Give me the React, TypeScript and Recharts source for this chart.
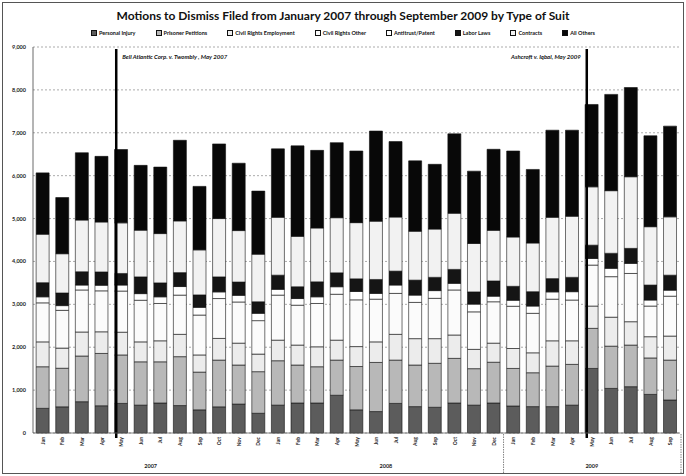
import React from "react";
import { BarChart, Bar, XAxis, YAxis, CartesianGrid, ReferenceLine } from "recharts";

// Monthly motions to dismiss, Jan 2007 - Sep 2009
const months = [
  "Jan-07", "Feb-07", "Mar-07", "Apr-07", "May-07", "Jun-07", "Jul-07", "Aug-07", "Sep-07", "Oct-07", "Nov-07", "Dec-07",
  "Jan-08", "Feb-08", "Mar-08", "Apr-08", "May-08", "Jun-08", "Jul-08", "Aug-08", "Sep-08", "Oct-08", "Nov-08", "Dec-08",
  "Jan-09", "Feb-09", "Mar-09", "Apr-09", "May-09", "Jun-09", "Jul-09", "Aug-09", "Sep-09",
];
const monthLabels = [
  "Jan", "Feb", "Mar", "Apr", "May", "Jun", "Jul", "Aug", "Sep", "Oct", "Nov", "Dec",
  "Jan", "Feb", "Mar", "Apr", "May", "Jun", "Jul", "Aug", "Sep", "Oct", "Nov", "Dec",
  "Jan", "Feb", "Mar", "Apr", "May", "Jun", "Jul", "Aug", "Sep",
];
const years = ["2007", "2008", "2009"];
const monthsPerYear = [12, 12, 9];

const personalInjury = [575, 610, 730, 635, 690, 650, 700, 640, 540, 610, 675, 460, 650, 700, 700, 880, 540, 500, 690, 615, 600, 700, 650, 700, 630, 615, 615, 650, 1505, 1040, 1080, 900, 770];
const prisonerPetitions = [970, 900, 1065, 1220, 1130, 1010, 960, 1140, 880, 1090, 910, 970, 1035, 885, 845, 820, 1010, 1145, 1010, 970, 1025, 1040, 850, 950, 875, 790, 945, 950, 935, 985, 970, 850, 930];
const civilRightsEmployment = [580, 470, 560, 505, 530, 465, 490, 520, 400, 505, 510, 410, 480, 465, 465, 465, 465, 480, 600, 615, 575, 545, 450, 445, 465, 465, 590, 550, 520, 675, 545, 495, 560];
const civilRightsOther = [910, 880, 980, 955, 960, 970, 870, 915, 930, 930, 960, 780, 1050, 930, 1010, 1070, 1090, 995, 955, 845, 940, 1050, 875, 965, 985, 920, 970, 950, 955, 945, 1125, 715, 930];
const antitrustPatent = [140, 110, 115, 130, 140, 155, 155, 200, 180, 155, 155, 170, 135, 155, 155, 175, 195, 135, 195, 170, 180, 155, 180, 130, 140, 170, 170, 195, 155, 195, 235, 140, 140];
const laborLaws = [330, 295, 310, 310, 270, 390, 325, 325, 290, 350, 310, 270, 330, 275, 350, 325, 295, 325, 325, 350, 310, 325, 285, 355, 325, 335, 310, 335, 310, 350, 350, 350, 350];
const contracts = [1130, 915, 1205, 1165, 1180, 1090, 1150, 1205, 1050, 1360, 1200, 1110, 1350, 1175, 1255, 1285, 1310, 1360, 1260, 1140, 1125, 1310, 1130, 1180, 1150, 1135, 1430, 1425, 1360, 1460, 1670, 1360, 1360];
const allOthers = [1430, 1310, 1570, 1530, 1710, 1510, 1550, 1880, 1480, 1740, 1570, 1470, 1595, 2110, 1810, 1750, 1670, 2100, 1760, 1640, 1510, 1850, 1685, 1890, 2005, 1715, 2030, 2005, 1920, 2245, 2080, 2120, 2115];

const yTicks = [0, 1000, 2000, 3000, 4000, 5000, 6000, 7000, 8000, 9000];

const series = [
  { key: "personalInjury", name: "Personal Injury", values: personalInjury, fill: "#5c5c5c" },
  { key: "prisonerPetitions", name: "Prisoner Petitions", values: prisonerPetitions, fill: "#b8b8b8" },
  { key: "civilRightsEmployment", name: "Civil Rights Employment", values: civilRightsEmployment, fill: "#ececec" },
  { key: "civilRightsOther", name: "Civil Rights Other", values: civilRightsOther, fill: "#fbfbfb" },
  { key: "antitrustPatent", name: "Antitrust/Patent", values: antitrustPatent, fill: "#ffffff" },
  { key: "laborLaws", name: "Labor Laws", values: laborLaws, fill: "#151515" },
  { key: "contracts", name: "Contracts", values: contracts, fill: "#f2f2f2" },
  { key: "allOthers", name: "All Others", values: allOthers, fill: "#080808" },
];

const data = months.map((m, i) => {
  const row: Record<string, string | number> = { month: m, label: monthLabels[i] };
  series.forEach((s) => (row[s.key] = s.values[i]));
  return row;
});

const W = 686;
const H = 476;
const Y_AXIS_W = 33;
const RIGHT = 6;
const BAND = (W - Y_AXIS_W - RIGHT) / months.length;
const FONT = "Lato, 'Open Sans', sans-serif";

// first index of every year group
const yearStarts = monthsPerYear.map((_, g) => monthsPerYear.slice(0, g).reduce((a, b) => a + b, 0));

const MonthTick = (props: any) => {
  const { x, y, payload } = props;
  const i = payload.index;
  const g = yearStarts.indexOf(i);
  return (
    <g>
      <text
        transform={`translate(${x + 2},${y}) rotate(-90)`}
        textAnchor="end"
        fontSize={5}
        fontWeight={700}
        fill="#222"
        fontFamily={FONT}
      >
        {monthLabels[i]}
      </text>
      {g >= 0 && (
        <text
          x={x + ((monthsPerYear[g] - 1) * BAND) / 2}
          y={y + 31}
          textAnchor="middle"
          fontSize={5.5}
          fontWeight={700}
          fill="#222"
          fontFamily={FONT}
        >
          {years[g]}
        </text>
      )}
      {g === years.length - 1 && (
        <line x1={x - BAND / 2} x2={x - BAND / 2} y1={y - 3} y2={y + 36} stroke="#666" strokeWidth={0.8} strokeDasharray="1.5 1" />
      )}
      {i === months.length - 1 && (
        <line x1={x + BAND / 2 + 1} x2={x + BAND / 2 + 1} y1={y - 3} y2={y + 36} stroke="#666" strokeWidth={0.8} strokeDasharray="1.5 1" />
      )}
    </g>
  );
};

const YTick = (props: any) => {
  const { x, y, payload } = props;
  return (
    <text x={x} y={y} dy={2} textAnchor="end" fontSize={5.5} fontWeight={700} fill="#222" fontFamily={FONT}>
      {Number(payload.value).toLocaleString("en-US")}
    </text>
  );
};

const ruling = (label: string, side: "left" | "right") => (p: any) => {
  const x = p.x1 - 5;
  const top = Math.min(p.y1, p.y2);
  const bottom = Math.max(p.y1, p.y2);
  return (
    <g>
      <line x1={x} x2={x} y1={top + 2} y2={bottom + 5} stroke="#000" strokeWidth={2.5} />
      <text
        x={side === "right" ? x + 6 : x - 6}
        y={top + 12}
        textAnchor={side === "right" ? "start" : "end"}
        fontSize={6}
        fontWeight={700}
        fontStyle="italic"
        fill="#111"
        fontFamily={FONT}
      >
        {label}
      </text>
    </g>
  );
};

export default function App() {
  return (
    <div style={{ position: "absolute", left: 0, top: 0, width: W, height: H, background: "#fff", fontFamily: FONT }}>
      <div
        style={{
          position: "absolute",
          left: 2,
          top: 2,
          width: W - 6,
          height: H - 6,
          border: "1px solid #555",
        }}
      />
      <div
        style={{
          position: "absolute",
          top: 8,
          left: 0,
          width: W,
          textAlign: "center",
          fontSize: 12,
          fontWeight: 700,
          color: "#111",
        }}
      >
        Motions to Dismiss Filed from January 2007 through September 2009 by Type of Suit
      </div>
      <div
        style={{
          position: "absolute",
          top: 30,
          left: 0,
          width: W,
          display: "flex",
          justifyContent: "center",
          gap: 20,
          fontSize: 5.5,
          fontWeight: 700,
          color: "#111",
        }}
      >
        {series.map((s) => (
          <span key={s.key} style={{ display: "flex", alignItems: "center", gap: 2 }}>
            <span
              style={{
                display: "inline-block",
                width: 4,
                height: 4,
                background: s.fill,
                border: "0.8px solid #111",
              }}
            />
            {s.name}
          </span>
        ))}
      </div>
      <div style={{ position: "absolute", left: 0, top: 0 }}>
        <BarChart
          width={W}
          height={H}
          data={data}
          margin={{ top: 47, right: RIGHT, left: 0, bottom: 0 }}
          barCategoryGap="16%"
        >
          <CartesianGrid vertical={false} stroke="#888" strokeDasharray="2 2" strokeWidth={0.7} />
          <XAxis
            dataKey="month"
            interval={0}
            height={43}
            tickSize={0}
            tickMargin={4}
            axisLine={{ stroke: "#666", strokeWidth: 0.8 }}
            tick={<MonthTick />}
          />
          <YAxis
            width={Y_AXIS_W}
            domain={[0, 9000]}
            ticks={yTicks}
            interval={0}
            tickSize={0}
            tickMargin={7}
            axisLine={{ stroke: "#444", strokeWidth: 0.8 }}
            tick={<YTick />}
          />
          {series.map((s) => (
            <Bar
              key={s.key}
              dataKey={s.key}
              name={s.name}
              stackId="suits"
              fill={s.fill}
              stroke="#111"
              strokeWidth={0.6}
              isAnimationActive={false}
            />
          ))}
          <ReferenceLine x="May-07" stroke="#000" shape={ruling("Bell Atlantic Corp. v. Twombly , May 2007", "right")} />
          <ReferenceLine x="May-09" stroke="#000" shape={ruling("Ashcroft v. Iqbal, May 2009", "left")} />
        </BarChart>
      </div>
    </div>
  );
}
